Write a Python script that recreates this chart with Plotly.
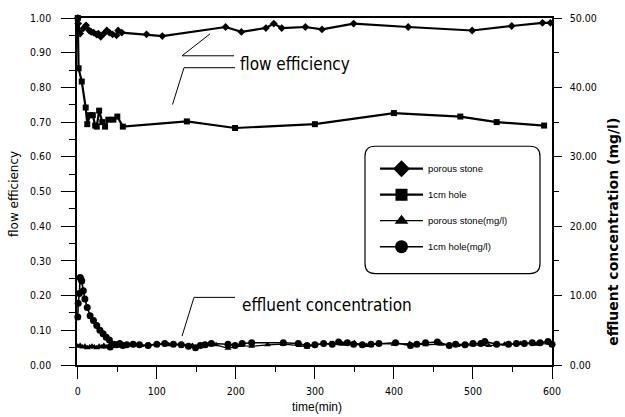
import plotly.graph_objects as go

# ---------------- data ----------------
# flow efficiency, porous stone (diamonds)
t_ps = [0, 0.5, 3, 7, 10.5, 14.5, 17, 20, 24, 26, 29, 33, 36.7, 40, 44, 49, 51, 55.7,
        87, 107, 187, 207, 238, 248, 258, 288, 309, 349, 418, 499, 549, 588, 598]
fe_ps = [1.00, 0.984, 0.955, 0.970, 0.979, 0.964, 0.960, 0.958, 0.952, 0.955, 0.946, 0.955, 0.964, 0.958,
         0.953, 0.950, 0.964, 0.958,
         0.953, 0.948, 0.974, 0.960, 0.971, 0.984, 0.971, 0.974, 0.967, 0.984, 0.974, 0.964, 0.977, 0.986, 0.986]

# flow efficiency, 1cm hole (squares)
t_h = [0, 1, 5, 10, 12, 15.5, 19, 22, 24, 27, 31, 34.5, 38.6, 45, 50, 57,
       138, 199, 300, 400, 484, 530, 590]
fe_h = [1.00, 0.855, 0.817, 0.742, 0.694, 0.720, 0.720, 0.690, 0.687, 0.733, 0.700, 0.687, 0.707, 0.707,
        0.716, 0.687, 0.702, 0.683, 0.694, 0.726, 0.716, 0.700, 0.690]

# effluent concentration (mg/l), porous stone (triangles)
t_psc = [0, 3, 6, 9, 12, 15, 18, 21, 24, 27, 30, 33, 36, 39, 42, 45, 48, 52, 56, 60,
         70, 80, 90, 100, 115, 130, 145, 160, 175, 190, 205, 220, 240, 260, 280, 290,
         300, 320, 335, 350, 365, 380, 400, 420, 440, 460, 480, 500, 520, 540, 560, 580, 600]
c_ps = [2.7, 2.8, 2.6, 2.7, 2.5, 2.6, 2.7, 2.6, 2.5, 2.7, 2.6, 2.8, 2.6, 2.7, 2.9, 2.7, 2.8, 2.9, 2.7, 2.8,
        2.9, 2.8, 2.9, 3.0, 2.9, 3.0, 2.8, 2.7, 2.9, 2.4, 2.8, 2.7, 2.9, 3.0, 2.8, 2.6,
        2.9, 3.1, 3.0, 3.2, 2.8, 3.1, 3.0, 3.1, 2.9, 3.0, 2.8, 2.9, 2.8, 3.0, 3.1, 3.0, 3.1]

# effluent concentration (mg/l), 1cm hole (circles)
t_hc = [0, 0.5, 2, 3, 4, 5, 7, 9, 12, 15.6, 19.8, 24, 28, 32, 36, 40, 41, 45, 49, 53, 57, 62,
        70, 78, 89, 100, 110, 121, 131, 140, 149, 155, 161, 169, 190, 199, 208, 220, 260, 279,
        290, 300, 311, 322, 330, 341, 349, 360, 371, 381, 402, 421, 429, 440, 455, 470, 478,
        490, 500, 510, 515, 530, 545, 555, 565, 575, 585, 595, 600]
c_h = [6.9, 8.9, 10.3, 12.6, 12.4, 12.1, 10.7, 9.5, 8.3, 7.1, 6.4, 5.7, 5.0, 4.5, 4.0, 3.6, 2.6, 3.0, 2.9, 3.1, 2.8, 2.9,
       3.0, 2.9, 2.8, 3.0, 3.1, 3.0, 2.9, 2.7, 2.5, 2.8, 2.9, 3.1, 3.0, 2.8, 3.1, 3.2, 3.2, 3.1,
       2.8, 2.9, 3.1, 3.0, 3.3, 3.2, 3.0, 2.9, 3.0, 3.1, 3.2, 2.8, 3.0, 3.2, 3.3, 2.8, 3.0,
       2.9, 3.1, 3.1, 3.4, 3.0, 3.0, 3.1, 3.1, 3.2, 3.2, 3.4, 3.0]

fe_ticks = [0.0, 0.1, 0.2, 0.3, 0.4, 0.5, 0.6, 0.7, 0.8, 0.9, 1.0]
conc_ticks = [0, 10, 20, 30, 40, 50]
time_ticks = [0, 100, 200, 300, 400, 500, 600]

legend_names = ["porous stone", "1cm hole", "porous stone(mg/l)", "1cm hole(mg/l)"]

# ---------------- layout helpers ----------------
W, H = 625, 417
L, R, T, B = 77, 552, 16, 365


def xp(px):
    return (px - L) / (R - L)


def yp(py):
    return (B - py) / (B - T)


NARROW = "Liberation Sans Narrow, DejaVu Sans Condensed, Liberation Sans, Arial"
BLK = "black"

fig = go.Figure()

# plot traces (no legend)
fig.add_trace(go.Scatter(x=t_ps, y=fe_ps, mode="lines+markers", showlegend=False,
                         line=dict(color=BLK, width=2.2),
                         marker=dict(symbol="diamond", size=6, color=BLK), cliponaxis=False))
fig.add_trace(go.Scatter(x=t_h, y=fe_h, mode="lines+markers", showlegend=False,
                         line=dict(color=BLK, width=2.2),
                         marker=dict(symbol="square", size=6, color=BLK), cliponaxis=False))
fig.add_trace(go.Scatter(x=t_psc, y=c_ps, mode="lines+markers", showlegend=False, yaxis="y2",
                         line=dict(color=BLK, width=1.2),
                         marker=dict(symbol="triangle-up", size=6, color=BLK), cliponaxis=False))
fig.add_trace(go.Scatter(x=t_hc, y=c_h, mode="lines+markers", showlegend=False, yaxis="y2",
                         line=dict(color=BLK, width=1.6),
                         marker=dict(symbol="circle", size=7, color=BLK), cliponaxis=False))

# legend-only traces (larger symbols like the original key)
leg_syms = ["diamond", "square", "triangle-up", "circle"]
leg_sizes = [13, 12, 12, 13]
leg_widths = [2.2, 2.2, 1.2, 1.6]
for i, name in enumerate(legend_names):
    fig.add_trace(go.Scatter(x=[None], y=[None], mode="lines+markers", name=name,
                             legendgroup=str(i),
                             line=dict(color=BLK, width=leg_widths[i]),
                             marker=dict(symbol=leg_syms[i], size=leg_sizes[i], color=BLK)))

# rounded legend box
x0, x1, y0, y1 = xp(365), xp(540), yp(273), yp(145)
rx, ry = 10 / (R - L), 10 / (B - T)
box = (f"M{x0+rx},{y1} L{x1-rx},{y1} Q{x1},{y1} {x1},{y1-ry} L{x1},{y0+ry} "
       f"Q{x1},{y0} {x1-rx},{y0} L{x0+rx},{y0} Q{x0},{y0} {x0},{y0+ry} "
       f"L{x0},{y1-ry} Q{x0},{y1} {x0+rx},{y1} Z")
shapes = [dict(type="path", xref="paper", yref="paper", path=box,
               line=dict(color=BLK, width=1.2), fillcolor="white", layer="below")]

# leader lines
leaders = [((182, 54), (234, 54)), ((182, 54), (210, 32)),
           ((184, 66), (235, 66)), ((184, 66), (172.5, 103)),
           ((194, 297), (235, 297)), ((194, 297), (182, 336))]
for (ax0, ay0), (ax1, ay1) in leaders:
    shapes.append(dict(type="line", xref="paper", yref="paper",
                       x0=xp(ax0), y0=yp(ay0), x1=xp(ax1), y1=yp(ay1),
                       line=dict(color=BLK, width=1)))

annotations = [
    dict(text="flow efficiency", x=xp(238), y=yp(62), xanchor="left", yanchor="middle",
         font=dict(family=NARROW, size=17, color=BLK)),
    dict(text="effluent concentration", x=xp(240), y=yp(305), xanchor="left", yanchor="middle",
         font=dict(family=NARROW, size=17, color=BLK)),
    dict(text="time(min)", x=xp(317), y=yp(407), xanchor="center", yanchor="middle",
         font=dict(family="Liberation Sans, Arial", size=12, color=BLK)),
    dict(text="flow efficiency", x=xp(14), y=yp(193), xanchor="center", yanchor="middle",
         textangle=-90, font=dict(family="DejaVu Sans", size=12, color=BLK)),
    dict(text="effluent concentration (mg/l)", x=xp(613), y=yp(231), xanchor="center",
         yanchor="middle", textangle=-90,
         font=dict(family="DejaVu Sans", size=14, color=BLK, weight="bold")),
]
for a in annotations:
    a.update(xref="paper", yref="paper", showarrow=False)

tickfont = dict(family=NARROW, size=10.5, color=BLK)

fig.update_layout(
    width=W, height=H, autosize=False,
    margin=dict(l=L, r=W - R, t=T, b=H - B, pad=0),
    paper_bgcolor="white", plot_bgcolor="white",
    shapes=shapes, annotations=annotations,
    xaxis=dict(range=[-1, 600], tickvals=time_ticks, ticks="outside", ticklen=12, tickwidth=1.3,
               tickcolor=BLK, showline=True, linecolor=BLK, linewidth=1.5, mirror=True,
               showgrid=False, zeroline=False, tickfont=tickfont, ticklabelstandoff=4,
               minor=dict(dtick=50, ticks="outside", ticklen=5, tickcolor=BLK, tickwidth=1.2,
                          showgrid=False)),
    yaxis=dict(range=[0, 1], tickvals=fe_ticks, tickformat=".2f", ticks="outside", ticklen=14,
               tickwidth=1.3, tickcolor=BLK, showline=True, linecolor=BLK, linewidth=1.5,
               showgrid=False, zeroline=False, tickfont=tickfont, ticklabelstandoff=8,
               minor=dict(dtick=0.05, ticks="outside", ticklen=6, tickcolor=BLK, tickwidth=1.2,
                          showgrid=False)),
    yaxis2=dict(range=[0, 50], tickvals=conc_ticks, tickformat=".2f", overlaying="y", side="right",
                ticks="outside", ticklen=8, tickwidth=1.3, tickcolor=BLK, showline=True,
                linecolor=BLK, linewidth=1.5, showgrid=False, zeroline=False, tickfont=tickfont,
                ticklabelstandoff=6,
                minor=dict(dtick=5, ticks="outside", ticklen=5, tickcolor=BLK, tickwidth=1.2,
                           showgrid=False)),
    legend=dict(x=xp(375), y=yp(153), xanchor="left", yanchor="top", bgcolor="rgba(0,0,0,0)",
                borderwidth=0, itemwidth=43, tracegroupgap=7,
                font=dict(family="Liberation Sans, Arial", size=9.5, color=BLK)),
)

fig.write_html("out.html")
